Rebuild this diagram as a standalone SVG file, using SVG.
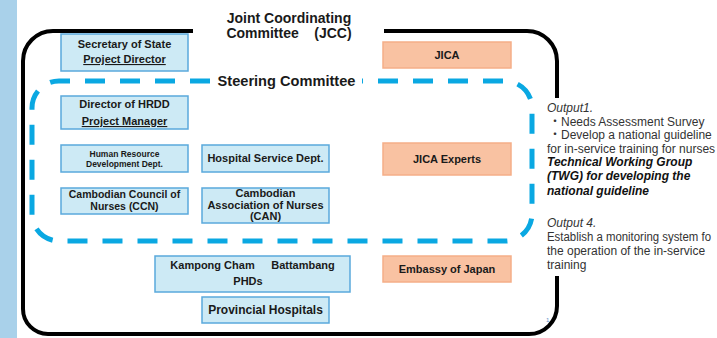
<svg xmlns="http://www.w3.org/2000/svg" width="717" height="338" viewBox="0 0 717 338">
<style>
text{font-family:"Liberation Sans",Arial,"Noto Sans CJK JP",sans-serif;fill:#1a1a1a}
.b{font-weight:bold;font-size:11px;text-anchor:middle}
.bl{fill:#CDEAF5;stroke:#5AA9DC;stroke-width:1.5}
.or{fill:#F9C2A2;stroke:#F5AE88;stroke-width:1.5}
.frame{fill:none;stroke:#000;stroke-width:4;stroke-linecap:butt}
.dash{fill:none;stroke:#0AA8E2;stroke-width:5;stroke-dasharray:20 15}
.out{font-size:12px;fill:#333}
</style>
<rect x="0" y="0" width="17" height="338" fill="#A9D1EA"/>
<g id="frames">
<path class="frame" d="M193,31 H53 A30,30 0 0 0 23,61 V309 A25,25 0 0 0 48,334 H529 A28,28 0 0 0 557,306 V276"/>
<path class="frame" d="M384,31 H527 A30,30 0 0 1 557,61 V98"/>
<path class="dash" d="M210,81 H59 A27,27 0 0 0 32,108 V214 A27,27 0 0 0 59,241 H505 A27,27 0 0 0 532,214 V108 A27,27 0 0 0 505,81 H362"/>
</g>
<g id="jcc-label">
<text x="289" y="23" font-size="14" font-weight="bold" text-anchor="middle">Joint Coordinating</text>
<text x="289" y="38" font-size="14" font-weight="bold" text-anchor="middle" xml:space="preserve">Committee    (JCC)</text>
</g>
<g id="steering-label">
<text x="286.5" y="86" font-size="14.6" font-weight="bold" text-anchor="middle">Steering Committee</text>
</g>
<g id="secretary">
<rect class="bl" x="61" y="34" width="127" height="37"/>
<text class="b" x="124.5" y="48" font-size="10.5">Secretary of State</text>
<text class="b" x="124.5" y="63" text-decoration="underline">Project Director</text>
</g>
<g id="director-hrdd">
<rect class="bl" x="61" y="96" width="127" height="33"/>
<text class="b" x="124.5" y="108">Director of HRDD</text>
<text class="b" x="124.5" y="125" text-decoration="underline">Project Manager</text>
</g>
<g id="hrdd">
<rect class="bl" x="61" y="145" width="127" height="27"/>
<text class="b" x="124.5" y="157" style="font-size:8.5px">Human Resource</text>
<text class="b" x="124.5" y="167" style="font-size:8.5px">Development Dept.</text>
</g>
<g id="hospital-service">
<rect class="bl" x="202" y="145" width="127" height="27"/>
<text class="b" x="265.5" y="162">Hospital Service Dept.</text>
</g>
<g id="ccn">
<rect class="bl" x="61" y="188" width="127" height="26"/>
<text class="b" x="124.5" y="198" style="font-size:10.5px">Cambodian Council of</text>
<text class="b" x="124.5" y="209.5" style="font-size:10.5px">Nurses (CCN)</text>
</g>
<g id="can">
<rect class="bl" x="202" y="188" width="127" height="35"/>
<text class="b" x="265.5" y="197">Cambodian</text>
<text class="b" x="265.5" y="209">Association of Nurses</text>
<text class="b" x="265.5" y="220">(CAN)</text>
</g>
<g id="phds">
<rect class="bl" x="155" y="256" width="195" height="36"/>
<text class="b" x="212.5" y="269">Kampong Cham</text>
<text class="b" x="303" y="269">Battambang</text>
<text class="b" x="248" y="285">PHDs</text>
</g>
<g id="provincial-hospitals">
<rect class="bl" x="202" y="297" width="127" height="26"/>
<text class="b" x="265.5" y="314" style="font-size:12px">Provincial Hospitals</text>
</g>
<g id="jica">
<rect class="or" x="383" y="42" width="128" height="26"/>
<text class="b" x="447" y="59">JICA</text>
</g>
<g id="jica-experts">
<rect class="or" x="383" y="143" width="128" height="32"/>
<text class="b" x="447" y="163">JICA Experts</text>
</g>
<g id="embassy">
<rect class="or" x="383" y="256" width="128" height="26"/>
<text class="b" x="447" y="273">Embassy of Japan</text>
</g>
<g id="outputs">
<text class="out" x="547" y="112" font-style="italic">Output1.</text>
<text class="out" x="549" y="126">・Needs Assessment Survey</text>
<text class="out" x="549" y="139">・Develop a national guideline</text>
<text class="out" x="547" y="153">for in-service training for nurses</text>
<text class="out" x="547" y="166" font-weight="bold" font-style="italic" style="fill:#111">Technical Working Group</text>
<text class="out" x="547" y="180" font-weight="bold" font-style="italic" style="fill:#111">(TWG) for developing the</text>
<text class="out" x="547" y="195" font-weight="bold" font-style="italic" style="fill:#111">national guideline</text>
<text class="out" x="547" y="227" font-style="italic">Output 4.</text>
<text class="out" x="547" y="241" textLength="164" lengthAdjust="spacingAndGlyphs">Establish a monitoring system fo</text>
<text class="out" x="547" y="255">the operation of the in-service</text>
<text class="out" x="547" y="269">training</text>
</g>
<text x="546" y="322" font-size="6" style="fill:#5B8DC8">1</text>
</svg>
